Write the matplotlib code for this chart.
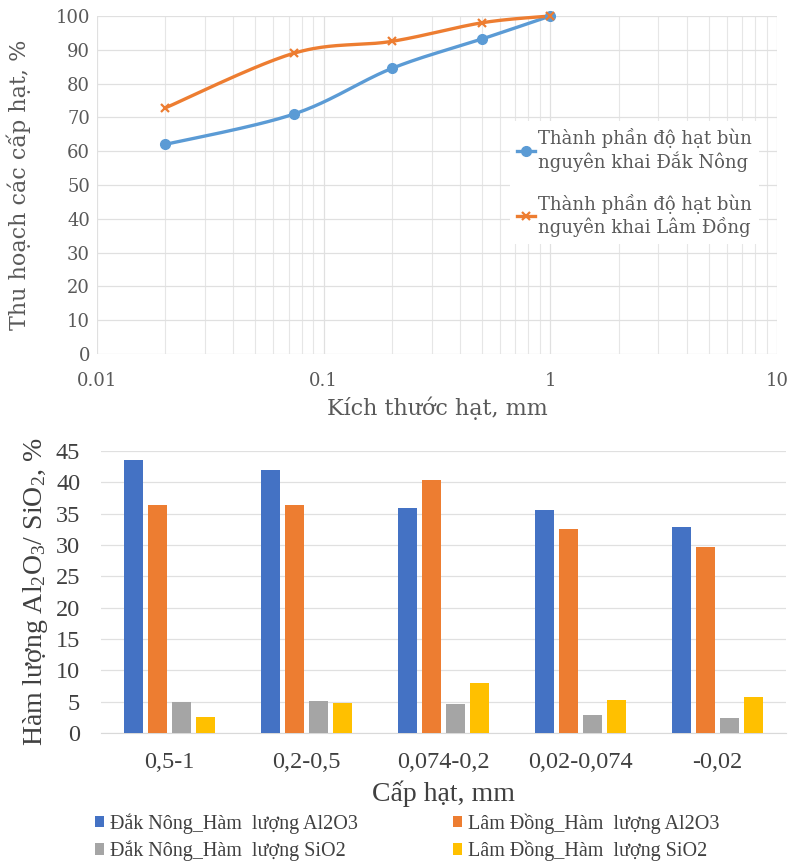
import numpy as np
import matplotlib
matplotlib.use('Agg')
import matplotlib.pyplot as plt
from matplotlib.ticker import FixedLocator, NullFormatter, FixedFormatter
from matplotlib.lines import Line2D

plt.rcParams['mathtext.default'] = 'regular'

# ---------------- data ----------------
size_mm = [0.02, 0.074, 0.2, 0.5, 1.0]
dak_nong_recovery = [62.0, 71.0, 84.5, 93.2, 100.0]
lam_dong_recovery = [72.8, 89.0, 92.5, 98.0, 100.0]
top_xticks = [0.01, 0.1, 1, 10]
top_xticklabels = ['0.01', '0.1', '1', '10']
top_yticks = list(range(0, 101, 10))

categories = ['0,5-1', '0,2-0,5', '0,074-0,2', '0,02-0,074', '-0,02']
dn_al2o3 = [43.5, 42.0, 35.9, 35.6, 32.8]
ld_al2o3 = [36.4, 36.4, 40.4, 32.5, 29.7]
dn_sio2 = [4.9, 5.1, 4.7, 2.9, 2.4]
ld_sio2 = [2.5, 4.8, 7.9, 5.3, 5.8]
bottom_yticks = list(range(0, 46, 5))

top_labels = ['Thành phần độ hạt bùn\nnguyên khai Đắk Nông',
              'Thành phần độ hạt bùn\nnguyên khai Lâm Đồng']
bar_labels = ['Đắk Nông_Hàm  lượng Al2O3', 'Lâm Đồng_Hàm  lượng Al2O3',
              'Đắk Nông_Hàm  lượng SiO2', 'Lâm Đồng_Hàm  lượng SiO2']

W, H = 792, 863
fig = plt.figure(figsize=(W / 100, H / 100), dpi=100)

# ---------------- top chart ----------------
TOPFONT = 'DejaVu Serif'
TOPCOL = '#595959'
ax1 = fig.add_axes([97 / W, 1 - 354 / H, 680 / W, 338 / H])
ax1.set_xscale('log')
ax1.set_xlim(0.01, 10)
ax1.set_ylim(0, 100)
minor = [m * 10.0 ** e for e in (-2, -1, 0) for m in range(2, 10)]
ax1.xaxis.set_major_locator(FixedLocator(top_xticks))
ax1.xaxis.set_major_formatter(FixedFormatter(top_xticklabels))
ax1.xaxis.set_minor_locator(FixedLocator(minor))
ax1.xaxis.set_minor_formatter(NullFormatter())
ax1.set_yticks(top_yticks)
ax1.grid(True, which='major', axis='both', color='#E0E0E0', lw=0.9)
ax1.grid(True, which='minor', axis='x', color='#E6E6E6', lw=0.8)
ax1.set_axisbelow(True)
for s in ax1.spines.values():
    s.set_visible(False)
ax1.tick_params(which='both', length=0)
ax1.tick_params(axis='x', pad=13)
ax1.tick_params(axis='y', pad=5)
for lab in ax1.get_xticklabels() + ax1.get_yticklabels():
    lab.set_fontfamily(TOPFONT)
    lab.set_fontsize(13)
    lab.set_color(TOPCOL)
ax1.set_xlabel('Kích thước hạt, mm', fontfamily=TOPFONT, fontsize=16,
               color=TOPCOL, labelpad=5)
ax1.set_ylabel('Thu hoạch các cấp hạt, %', fontfamily=TOPFONT, fontsize=16,
               color=TOPCOL, labelpad=18)


def smooth(ax, xs, ys, n=40):
    pts = ax.transData.transform(np.column_stack([xs, ys]))
    p = np.vstack([pts[0], pts, pts[-1]])
    out = []
    for i in range(1, len(p) - 2):
        p0, p1, p2, p3 = p[i - 1], p[i], p[i + 1], p[i + 2]
        c1 = p1 + (p2 - p0) / 6.0
        c2 = p2 - (p3 - p1) / 6.0
        t = np.linspace(0, 1, n)[:, None]
        seg = ((1 - t) ** 3) * p1 + 3 * ((1 - t) ** 2) * t * c1 + \
            3 * (1 - t) * t ** 2 * c2 + t ** 3 * p2
        out.append(seg if i == 1 else seg[1:])
    out = np.vstack(out)
    d = ax.transData.inverted().transform(out)
    return d[:, 0], d[:, 1]


blue_line = '#5B9BD5'
orange_line = '#ED7D31'
sx, sy = smooth(ax1, size_mm, dak_nong_recovery)
ax1.plot(sx, sy, color=blue_line, lw=2.4, clip_on=False, zorder=3)
ax1.plot(size_mm, dak_nong_recovery, ls='none', marker='o', ms=7,
         color=blue_line, clip_on=False, zorder=4)
sx, sy = smooth(ax1, size_mm, lam_dong_recovery)
ax1.plot(sx, sy, color=orange_line, lw=2.4, clip_on=False, zorder=3)
ax1.plot(size_mm, lam_dong_recovery, ls='none', marker='x', ms=6, mew=1.6,
         color=orange_line, clip_on=False, zorder=4)

h1 = Line2D([], [], color=blue_line, lw=2.4, marker='o', ms=7)
h2 = Line2D([], [], color=orange_line, lw=2.4, marker='x', ms=6, mew=1.6)
leg1 = ax1.legend([h1, h2], top_labels, loc='upper left',
                  bbox_to_anchor=(510 / W, 1 - 121 / H),
                  bbox_transform=fig.transFigure,
                  prop={'family': TOPFONT, 'size': 13},
                  frameon=True, facecolor='white', edgecolor='none',
                  framealpha=1, fancybox=False, handlelength=1.0,
                  handletextpad=0.15, labelspacing=1.2, borderpad=0.4,
                  borderaxespad=0)
for t in leg1.get_texts():
    t.set_color(TOPCOL)

# ---------------- bottom chart ----------------
BOTFONT = 'Liberation Serif'
BOTCOL = '#404040'
ax2 = fig.add_axes([101 / W, 1 - 733 / H, 685 / W, 282 / H])
x = np.arange(len(categories))
slot = 0.176
bw = 0.139
colors = ['#4472C4', '#ED7D31', '#A5A5A5', '#FFC000']
series = [dn_al2o3, ld_al2o3, dn_sio2, ld_sio2]
bars = []
for k, (vals, c) in enumerate(zip(series, colors)):
    b = ax2.bar(x + (k - 1.5) * slot, vals, width=bw, color=c, zorder=3)
    bars.append(b)
ax2.set_xlim(-0.5, len(categories) - 0.5)
ax2.set_ylim(0, 45)
ax2.set_yticks(bottom_yticks)
ax2.set_xticks(x)
ax2.set_xticklabels(categories)
ax2.grid(True, axis='y', color='#E0E0E0', lw=0.9)
ax2.set_axisbelow(True)
for name, s in ax2.spines.items():
    s.set_visible(name == 'bottom')
ax2.spines['bottom'].set_color('#D9D9D9')
ax2.tick_params(length=0)
ax2.tick_params(axis='x', pad=14)
ax2.tick_params(axis='y', pad=15)
for lab in ax2.get_xticklabels() + ax2.get_yticklabels():
    lab.set_fontfamily(BOTFONT)
    lab.set_fontsize(17.5)
    lab.set_color(BOTCOL)
ax2.set_xlabel('Cấp hạt, mm', fontfamily=BOTFONT, fontsize=20,
               color=BOTCOL, labelpad=5)
ax2.set_ylabel('Hàm lượng Al$_2$O$_3$/ SiO$_2$, %', fontfamily=BOTFONT,
               fontsize=20, color=BOTCOL, labelpad=4)

order = [0, 2, 1, 3]
leg2 = ax2.legend([bars[i] for i in order], [bar_labels[i] for i in order],
                  ncol=2, loc='upper left',
                  bbox_to_anchor=(95 / W, 1 - 813 / H),
                  bbox_transform=fig.transFigure,
                  prop={'family': BOTFONT, 'size': 14.5}, frameon=False,
                  handlelength=0.45, handleheight=0.5, handletextpad=0.3,
                  columnspacing=4.7, labelspacing=0.36, borderpad=0.0,
                  borderaxespad=0)
for t in leg2.get_texts():
    t.set_color(BOTCOL)

fig.savefig('out.png', dpi=100, facecolor='white')
